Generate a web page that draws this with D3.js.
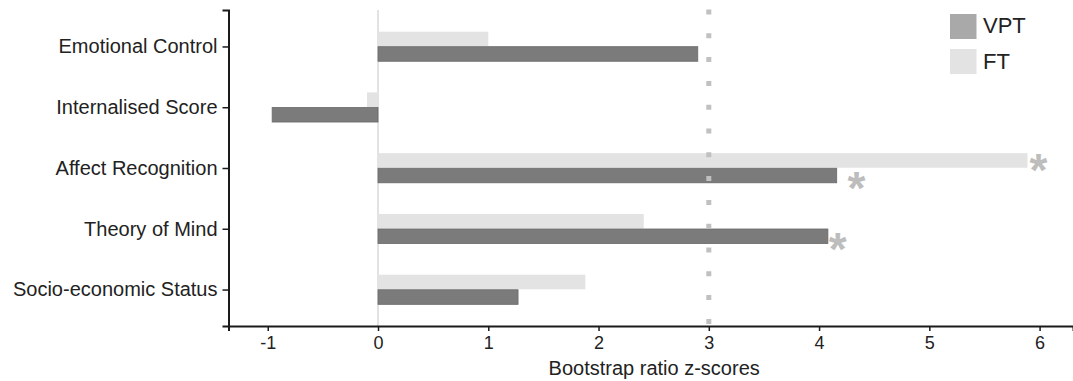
<!DOCTYPE html>
<html>
<head>
<meta charset="utf-8">
<script src="https://cdn.jsdelivr.net/npm/d3@7"></script>
<style>
  html, body { margin: 0; padding: 0; background: #fff; }
  svg { display: block; font-family: Arial, "Liberation Sans", sans-serif; }
</style>
</head>
<body>
<svg id="chart" width="1073" height="381"></svg>
<script>
const categories = ["Emotional Control", "Internalised Score", "Affect Recognition", "Theory of Mind", "Socio-economic Status"];
const seriesNames = ["FT", "VPT"];
const ftValues  = [1.00, -0.10, 5.89, 2.41, 1.88];
const vptValues = [2.90, -0.96, 4.16, 4.08, 1.27];
const xTicks = [-1, 0, 1, 2, 3, 4, 5, 6];
const xDomain = [-1.356, 6.303];
const threshold = 3;
const legendItems = ["VPT", "FT"];
// significance markers: [category, series, x position in data units]
const starCats   = ["Affect Recognition", "Affect Recognition", "Theory of Mind"];
const starSeries = ["FT", "VPT", "VPT"];
const starX      = [5.99, 4.34, 4.17];
const xTitle = "Bootstrap ratio z-scores";

const colors = { VPT: "#7b7b7b", FT: "#e3e3e3" };
const legendColors = { VPT: "#a9a9a9", FT: "#e3e3e3" };

const svg = d3.select("#chart");
const mLeft = 228.5, mRight = 1073, mTop = 10, mBottom = 326;

const x = d3.scaleLinear().domain(xDomain).range([mLeft, mRight]);
const y = d3.scalePoint().domain(categories).range([mTop, mBottom]).padding(0.6);
const inner = d3.scaleBand().domain(seriesNames).range([-14.8, 14.8]).paddingInner(0.03);

const rows = [];
categories.forEach((c, i) => {
  rows.push({ cat: c, s: "FT", v: ftValues[i] });
  rows.push({ cat: c, s: "VPT", v: vptValues[i] });
});

// zero line
svg.append("line")
  .attr("x1", x(0)).attr("x2", x(0))
  .attr("y1", mTop).attr("y2", mBottom)
  .attr("stroke", "#d9d9d9").attr("stroke-width", 1.5);

// bars
svg.append("g").selectAll("rect").data(rows).join("rect")
  .attr("x", d => Math.min(x(0), x(d.v)))
  .attr("width", d => Math.abs(x(d.v) - x(0)))
  .attr("y", d => y(d.cat) + inner(d.s))
  .attr("height", inner.bandwidth())
  .attr("fill", d => colors[d.s])
  .attr("stroke", d => d.s === "VPT" ? "#6a6a6a" : "none")
  .attr("stroke-width", 0.8);

// threshold dotted line
svg.append("line")
  .attr("x1", x(threshold)).attr("x2", x(threshold))
  .attr("y1", mTop - 0.5).attr("y2", mBottom)
  .attr("stroke", "#c0c0c0").attr("stroke-width", 5)
  .attr("stroke-dasharray", "5 18.8");

// asterisks
const fs = 46;
svg.append("g").selectAll("text").data(starCats.map((c, i) => ({ c, s: starSeries[i], v: starX[i] })))
  .join("text")
  .attr("x", d => x(d.v))
  .attr("y", d => y(d.c) + inner(d.s) + inner.bandwidth() / 2 + (d.s === "VPT" ? 3 : 0) + 0.56 * fs)
  .attr("text-anchor", "middle")
  .attr("font-size", fs)
  .attr("font-weight", "bold")
  .attr("fill", "#bdbdbd")
  .text("*");

// x axis
const xAxis = svg.append("g")
  .attr("transform", `translate(0,${mBottom})`)
  .call(d3.axisBottom(x).tickValues(xTicks).tickFormat(d => String(d)).tickSizeOuter(0).tickSize(5).tickPadding(5));
xAxis.select(".domain").attr("stroke", "#1a1a1a").attr("stroke-width", 2);
xAxis.selectAll(".tick line").attr("stroke", "#1a1a1a").attr("stroke-width", 1.5);
xAxis.selectAll(".tick text").attr("font-size", 18).attr("fill", "#222")
  .attr("font-family", "Arial, 'Liberation Sans', sans-serif");

// y axis
const yAxis = svg.append("g")
  .attr("transform", `translate(${mLeft},0)`)
  .call(d3.axisLeft(y).tickSizeOuter(0).tickSize(6).tickPadding(5));
yAxis.select(".domain").attr("stroke", "#1a1a1a").attr("stroke-width", 2);
yAxis.selectAll(".tick line").attr("stroke", "#1a1a1a").attr("stroke-width", 1.5);
yAxis.selectAll(".tick text").attr("font-size", 20).attr("fill", "#222")
  .attr("font-family", "Arial, 'Liberation Sans', sans-serif");

// x title
svg.append("text")
  .attr("x", (x(-1) + x(6)) / 2 + 0.5)
  .attr("y", 375)
  .attr("text-anchor", "middle")
  .attr("font-size", 20)
  .attr("fill", "#222")
  .text(xTitle);

// legend
const lg = svg.append("g");
legendItems.forEach((name, i) => {
  lg.append("rect")
    .attr("x", 950).attr("y", 14 + i * 35)
    .attr("width", 26.5).attr("height", 25)
    .attr("fill", legendColors[name]);
  lg.append("text")
    .attr("x", 983).attr("y", 33.3 + i * 36)
    .attr("font-size", 22).attr("fill", "#222")
    .text(name);
});
</script>
</body>
</html>
